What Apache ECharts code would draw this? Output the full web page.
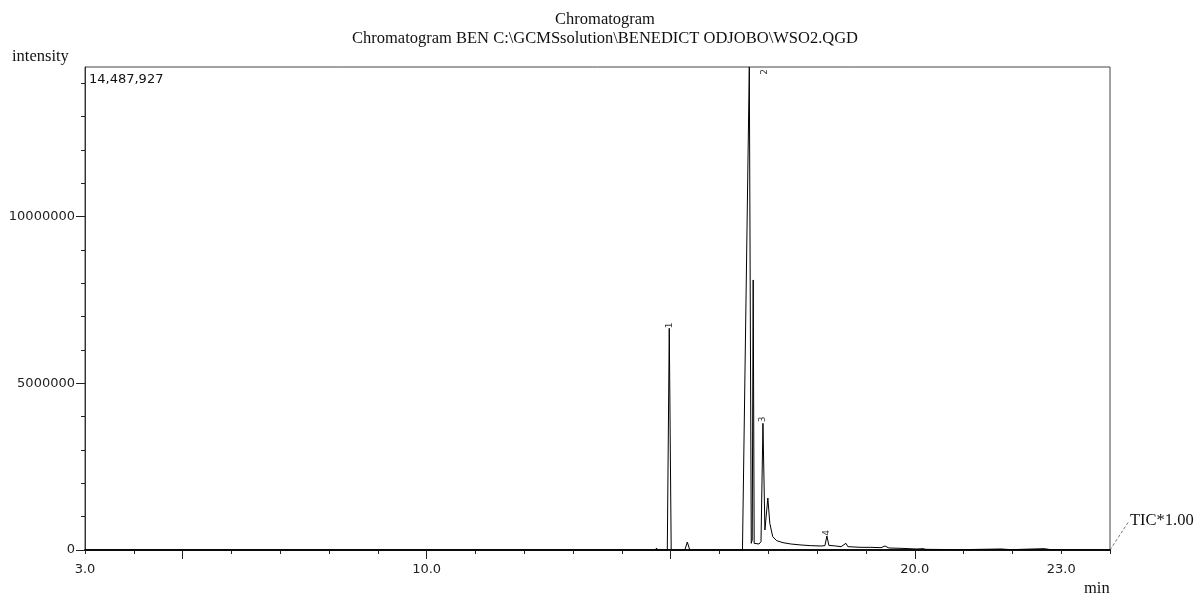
<!DOCTYPE html>
<html>
<head>
<meta charset="utf-8">
<script src="https://cdn.jsdelivr.net/npm/echarts@6/dist/echarts.min.js"></script>
<style>html,body{margin:0;padding:0;background:#fff;}#c{width:1194px;height:597px;}</style>
</head>
<body>
<div id="c"></div>
<script>
// ---- data ----
var titleLines = ['Chromatogram', 'Chromatogram BEN C:\\GCMSsolution\\BENEDICT ODJOBO\\WSO2.QGD'];
var yMax = 14487927;
var xMin = 3.0, xMax = 24.0;
// retention time (min)
var times = [3.0, 14.59, 14.69, 14.71, 14.73, 14.93, 14.97, 15.01, 15.29, 15.34, 15.39,
  15.94, 15.96, 15.98, 16.47, 16.61, 16.65, 16.67, 16.69, 16.71, 16.81, 16.85, 16.89, 16.93,
  16.99, 17.03, 17.09, 17.17, 17.30, 17.46, 17.67, 17.87, 18.08, 18.16, 18.20, 18.24, 18.38,
  18.49, 18.59, 18.63, 18.90, 19.10, 19.31, 19.39, 19.47, 19.72, 20.03, 20.17, 20.23, 20.95,
  21.77, 21.97, 22.65, 22.79, 24.0];
// intensity
var intensity = [0, 0, 0, 60000, 0, 0, 6650000, 0, 0, 240000, 0,
  0, 40000, 0, 0, 14487927, 200000, 300000, 8100000, 200000, 180000, 250000, 3800000, 600000,
  1560000, 800000, 400000, 280000, 220000, 180000, 150000, 130000, 120000, 130000, 420000, 140000, 120000,
  100000, 200000, 100000, 80000, 80000, 70000, 120000, 60000, 50000, 30000, 40000, 20000, 10000,
  30000, 10000, 40000, 10000, 0];
var peakLabels = ['1', '2', '3', '4'];
var peakTimes = [14.97, 16.61, 16.89, 18.20];
var peakHeights = [6650000, 14487927, 3800000, 420000];
var xLabelValues = [3.0, 10.0, 20.0, 23.0];
var xMinorTicks = [3,4,5,6,7,8,9,10,11,12,13,14,15,16,17,18,19,20,21,22,23,24];
var xMajorTicks = [5, 10, 15, 20];
var yLabelValues = [0, 5000000, 10000000];
var yMinorTicks = [0,1000000,2000000,3000000,4000000,5000000,6000000,7000000,8000000,9000000,10000000,11000000,12000000,13000000,14000000];
var yAxisName = 'intensity';
var xAxisName = 'min';
var traceName = 'TIC*1.00';

var seriesData = times.map(function (t, i) { return [t, intensity[i]]; });
// offsets are in the rotated (90deg) label frame: [up, right]
var peakOffsets = [[3, 0], [-5, 15], [4, 0], [3, 0]];

var chart = echarts.init(document.getElementById('c'), null, {renderer: 'canvas'});
var sans = 'DejaVu Sans';
var serif = 'Liberation Serif';
var option = {
  backgroundColor: '#fff',
  animation: false,
  title: {
    text: titleLines.join('\n'),
    left: 600, top: 5, textAlign: 'center',
    textStyle: {fontFamily: serif, fontSize: 16.5, fontWeight: 'normal', color: '#111', lineHeight: 19, align: 'center'}
  },
  grid: {left: 85, right: 84, top: 67, bottom: 47, show: true, borderColor: '#444', borderWidth: 1, backgroundColor: 'transparent'},
  xAxis: [{
    type: 'value', min: xMin, max: xMax,
    axisLine: {show: true, onZero: false, lineStyle: {color: '#111', width: 2}},
    axisTick: {show: true, customValues: xMinorTicks, length: 4, lineStyle: {color: '#222'}},
    axisLabel: {show: true, customValues: xLabelValues, margin: 13,
      formatter: function (v) { return v.toFixed(1); },
      fontFamily: sans, fontSize: 13, color: '#222'},
    splitLine: {show: false}
  }, {
    type: 'value', min: xMin, max: xMax, position: 'bottom',
    axisLine: {show: false},
    axisTick: {show: true, customValues: xMajorTicks, length: 9, lineStyle: {color: '#222'}},
    axisLabel: {show: false},
    splitLine: {show: false}
  }],
  yAxis: [{
    type: 'value', min: 0, max: yMax,
    axisLine: {show: true, onZero: false, lineStyle: {color: '#333', width: 1}},
    axisTick: {show: true, customValues: yMinorTicks, length: 4, lineStyle: {color: '#222'}},
    axisLabel: {show: true, customValues: yLabelValues, margin: 10,
      formatter: function (v) { return String(v); },
      fontFamily: sans, fontSize: 13, color: '#222'},
    splitLine: {show: false}
  }, {
    type: 'value', min: 0, max: yMax, position: 'left',
    axisLine: {show: false},
    axisTick: {show: true, customValues: yLabelValues, length: 9, lineStyle: {color: '#222'}},
    axisLabel: {show: false},
    splitLine: {show: false}
  }],
  series: [{
    type: 'line',
    name: traceName,
    data: seriesData,
    showSymbol: false,
    symbol: 'none',
    clip: true,
    lineStyle: {color: '#000', width: 1},
    markPoint: {
      symbol: 'rect', symbolSize: 1,
      itemStyle: {color: 'rgba(0,0,0,0)'},
      label: {show: true, position: 'inside', rotate: 90, fontFamily: sans, fontSize: 9, color: '#334'},
      data: peakLabels.map(function (l, i) {
        return {name: l, coord: [peakTimes[i], peakHeights[i]],
          label: {formatter: l, offset: peakOffsets[i]}};
      })
    }
  }],
  graphic: [
    {type: 'text', left: 12, top: 48, style: {text: yAxisName, font: '16.5px ' + serif, fill: '#111'}},
    {type: 'text', left: 89, top: 73, style: {text: yMax.toLocaleString('en-US'), font: '13px ' + sans, fill: '#111'}},
    {type: 'text', left: 1084, top: 580, style: {text: xAxisName, font: '16.5px ' + serif, fill: '#111'}},
    {type: 'text', left: 1130, top: 512, style: {text: traceName, font: '16.5px ' + serif, fill: '#111'}},
    {type: 'line', shape: {x1: 1110, y1: 550, x2: 1129, y2: 521}, style: {stroke: '#777', lineWidth: 1, lineDash: [3, 2]}}
  ]
};
chart.setOption(option);
</script>
</body>
</html>
